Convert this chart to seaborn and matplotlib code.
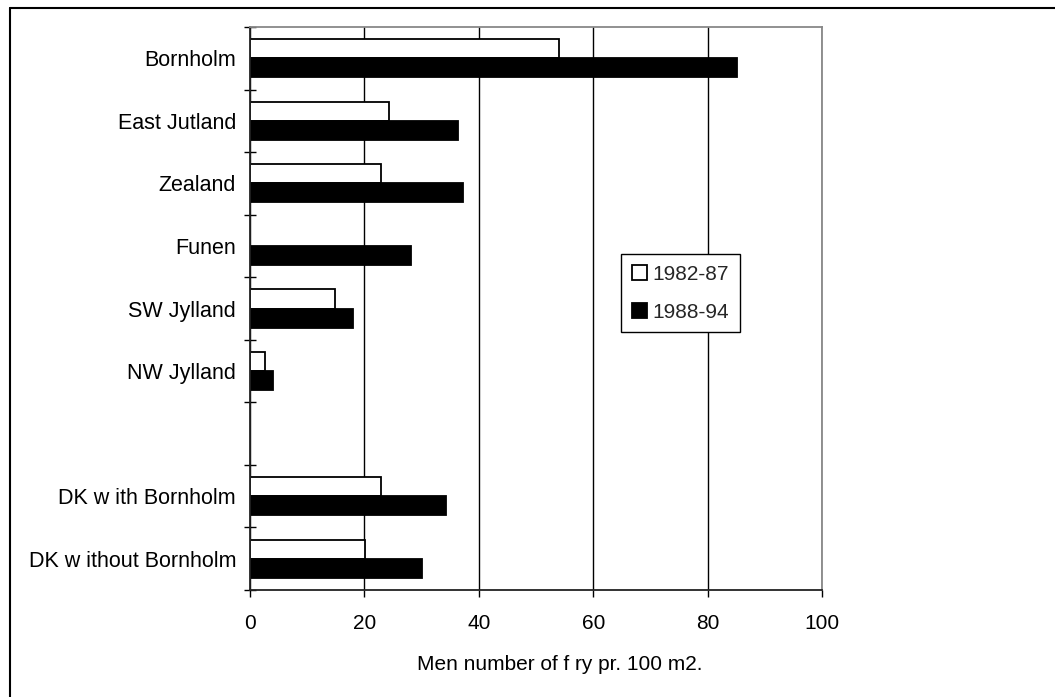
import matplotlib
matplotlib.use("Agg")
import matplotlib.pyplot as plt
from matplotlib.lines import Line2D
import numpy as np
import pandas as pd
import seaborn as sns

categories = ["Bornholm", "East Jutland", "Zealand", "Funen", "SW Jylland",
              "NW Jylland", " ", "DK w ith Bornholm", "DK w ithout Bornholm"]
series_names = ["1982-87", "1988-94"]
values_1982_87 = [54.0, 24.3, 22.9, np.nan, 14.9, 2.6, np.nan, 22.9, 20.1]
values_1988_94 = [85.1, 36.3, 37.3, 28.2, 18.0, 4.0, np.nan, 34.2, 30.0]
x_ticks = [0, 20, 40, 60, 80, 100]
x_label = "Men number of f ry pr. 100 m2."

df = pd.DataFrame({
    "category": categories * 2,
    "period": [series_names[0]] * len(categories) + [series_names[1]] * len(categories),
    "value": values_1982_87 + values_1988_94,
})

sns.set_theme(style="white")
plt.rcParams["font.family"] = ["Liberation Sans", "DejaVu Sans"]

W, H = 1055, 697
fig = plt.figure(figsize=(W / 100, H / 100), dpi=100)
ax = fig.add_axes([250 / W, 1 - 590 / H, (822 - 250) / W, (590 - 27) / H])

sns.barplot(data=df, y="category", x="value", hue="period", order=categories,
            hue_order=series_names, palette=["white", "black"], orient="h",
            width=0.61, edgecolor="black", linewidth=1.3, errorbar=None,
            saturation=1, ax=ax)

ax.set_xlim(0, 100)
ax.set_ylim(len(categories) - 0.5, -0.5)
ax.set_xticks(x_ticks)
ax.set_xticklabels([str(t) for t in x_ticks])
ax.tick_params(axis="x", direction="out", length=5, width=1, color="black",
               labelsize=15, pad=12, bottom=True, labelcolor="black")

# y ticks at category boundaries, labels at centres
ax.set_yticks(np.arange(-0.5, len(categories) + 0.5, 1.0))
ax.set_yticklabels([])
ax.set_yticks(np.arange(len(categories)), minor=True)
ax.set_yticklabels(categories, minor=True)
ax.tick_params(axis="y", which="major", direction="inout", length=9, width=1,
               color="black", left=True)
ax.tick_params(axis="y", which="minor", length=0, labelsize=15.5, pad=10,
               labelcolor="black")

ax.set_ylabel("")
ax.set_xlabel(x_label, fontsize=15, color="black")
ax.xaxis.set_label_coords(0.542, -0.116)

ax.xaxis.grid(True, color="black", linewidth=1)
ax.yaxis.grid(False)
ax.set_axisbelow(True)

for side in ["left", "bottom"]:
    ax.spines[side].set_color("#222222")
    ax.spines[side].set_linewidth(1.3)
for side in ["top", "right"]:
    ax.spines[side].set_color("#888888")
    ax.spines[side].set_linewidth(1.3)

handles, labels = ax.get_legend_handles_labels()
leg = ax.legend(handles, labels, loc="upper left",
                bbox_to_anchor=((621 - 250) / 572, 1 - (254 - 27) / 563),
                fontsize=15, frameon=True, fancybox=False, framealpha=1,
                edgecolor="black", handlelength=0.72, handleheight=0.72,
                handletextpad=0.25, labelspacing=0.9, borderpad=0.52,
                borderaxespad=0)
leg.get_frame().set_linewidth(1)

# outer frame (top and left visible in the reference)
fig.add_artist(Line2D([10 / W, 1.0], [1 - 8 / H, 1 - 8 / H],
                      transform=fig.transFigure, color="black", lw=1.5))
fig.add_artist(Line2D([10 / W, 10 / W], [1 - 8 / H, 0.0],
                      transform=fig.transFigure, color="black", lw=1.5))

fig.savefig("out.png", dpi=100)
